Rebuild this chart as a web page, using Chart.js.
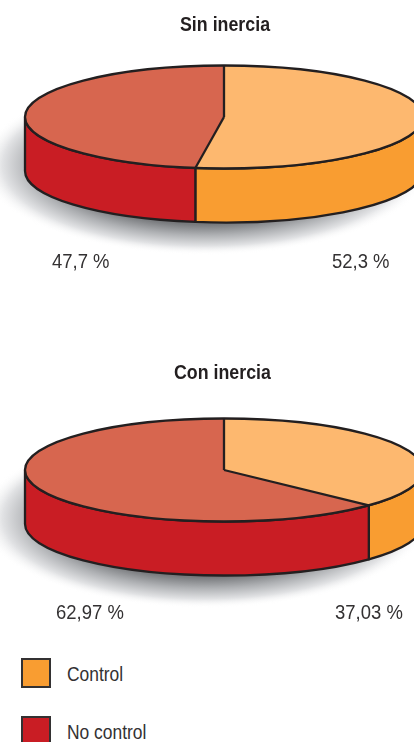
<!DOCTYPE html>
<html lang="es">
<head>
<meta charset="utf-8">
<title>Sin inercia / Con inercia</title>
<script src="https://cdn.jsdelivr.net/npm/chart.js@4/dist/chart.umd.min.js"></script>
<style>
  html, body { margin: 0; padding: 0; background: #fff; width: 414px; height: 742px; overflow: hidden; }
  body { position: relative; font-family: "Liberation Sans", sans-serif; color: #333132; }
  canvas { position: absolute; left: 0; }
  .txt { position: absolute; font-size: 21px; line-height: 24px; white-space: nowrap; transform-origin: 0 0; }
  .pct { transform: scaleX(0.88); }
  .keyText { transform: scaleX(0.83); }
  .ttl { font-size: 20px; font-weight: bold; color: #231F20; transform: scaleX(0.89); }
  .key { position: absolute; left: 21px; width: 26px; height: 26px; border: 2px solid #333132; }
</style>
</head>
<body>
<canvas id="sinInercia" width="448" height="300" style="top:0"></canvas>
<canvas id="conInercia" width="448" height="300" style="top:353px"></canvas>

<script>
  const categories = ['Control', 'No control'];
  const sinInerciaValues = [52.3, 47.7];
  const conInerciaValues = [37.03, 62.97];
  const titles = ['Sin inercia', 'Con inercia'];

  const topColors = ['#FDB86F', '#D7664F'];
  const sideColors = ['#F99D31', '#C91D24'];
  const lineColor = '#231F20';

  const RADIUS = 199;
  const SQUASH = 51.5 / 199; // alto/ancho de la elipse
  const DEPTH = 54;
  const CENTER_Y = 117;

  // pinta sombra y pared antes del pie, y contorno despues
  const pie3d = {
    id: 'pie3d',
    beforeDatasetsDraw(chart) {
      const ctx = chart.ctx;
      const arcs = chart.getDatasetMeta(0).data;
      const cx = arcs[0].x, cy = arcs[0].y, ry = RADIUS * SQUASH;

      // sombra
      ctx.save();
      ctx.translate(cx - 19, cy + 48);
      ctx.scale(1, 90 / 225);
      const g = ctx.createRadialGradient(0, 0, 0, 0, 0, 225);
      g.addColorStop(0, 'rgb(115,117,120)');
      g.addColorStop(0.66, 'rgb(120,122,125)');
      g.addColorStop(0.78, 'rgb(175,177,180)');
      g.addColorStop(0.9, 'rgb(225,226,228)');
      g.addColorStop(1, 'rgba(255,255,255,0)');
      ctx.fillStyle = g;
      ctx.beginPath();
      ctx.arc(0, 0, 225, 0, Math.PI * 2);
      ctx.fill();
      ctx.restore();

      // pared lateral
      ctx.lineWidth = 2.3;
      ctx.strokeStyle = lineColor;
      ctx.lineJoin = 'round';
      arcs.forEach((arc, i) => {
        const a = Math.max(arc.startAngle, 0);
        const b = Math.min(arc.endAngle, Math.PI);
        if (b <= a) return;
        ctx.beginPath();
        ctx.ellipse(cx, cy, RADIUS, ry, 0, a, b);
        ctx.ellipse(cx, cy + DEPTH, RADIUS, ry, 0, b, a, true);
        ctx.closePath();
        ctx.fillStyle = sideColors[i];
        ctx.fill();
        ctx.stroke();
      });
    },
    beforeDatasetDraw(chart) {
      const ctx = chart.ctx;
      const arc = chart.getDatasetMeta(0).data[0];
      ctx.save();
      ctx.translate(arc.x, arc.y);
      ctx.scale(1, SQUASH);
      ctx.translate(-arc.x, -arc.y);
    },
    afterDatasetDraw(chart) {
      chart.ctx.restore();
    },
    afterDatasetsDraw(chart) {
      const ctx = chart.ctx;
      const arcs = chart.getDatasetMeta(0).data;
      const cx = arcs[0].x, cy = arcs[0].y, ry = RADIUS * SQUASH;
      ctx.save();
      ctx.lineWidth = 2.3;
      ctx.strokeStyle = lineColor;
      ctx.lineJoin = 'round';
      ctx.beginPath();
      ctx.ellipse(cx, cy, RADIUS, ry, 0, 0, Math.PI * 2);
      ctx.stroke();
      arcs.forEach(arc => {
        ctx.beginPath();
        ctx.moveTo(cx, cy);
        ctx.lineTo(cx + RADIUS * Math.cos(arc.startAngle), cy + ry * Math.sin(arc.startAngle));
        ctx.stroke();
      });
      ctx.restore();
    }
  };

  function makePie(id, values) {
    return new Chart(document.getElementById(id), {
      type: 'pie',
      plugins: [pie3d],
      data: {
        labels: categories,
        datasets: [{ data: values, backgroundColor: topColors, borderWidth: 0, clip: false }]
      },
      options: {
        responsive: false,
        animation: false,
        radius: RADIUS,
        layout: { padding: { bottom: 300 - 2 * CENTER_Y } },
        plugins: { legend: { display: false }, tooltip: { enabled: false } }
      }
    });
  }

  makePie('sinInercia', sinInerciaValues);
  makePie('conInercia', conInerciaValues);

  function addText(cls, x, y, text) {
    const el = document.createElement('div');
    el.className = 'txt ' + cls;
    el.style.left = x + 'px';
    el.style.top = y + 'px';
    el.textContent = text;
    document.body.appendChild(el);
  }

  addText('ttl', 180, 12, titles[0]);
  addText('ttl', 174, 360, titles[1]);

  // etiquetas de porcentaje
  const fmt = v => String(v).replace('.', ',') + ' %';
  addText('pct', 52, 249, fmt(sinInerciaValues[1]));
  addText('pct', 332, 249, fmt(sinInerciaValues[0]));
  addText('pct', 56, 600, fmt(conInerciaValues[1]));
  addText('pct', 335, 600, fmt(conInerciaValues[0]));

  // leyenda
  categories.forEach((name, i) => {
    const box = document.createElement('div');
    box.className = 'key';
    box.style.top = (658 + i * 58) + 'px';
    box.style.background = sideColors[i];
    document.body.appendChild(box);
    addText('keyText', 67, 662 + i * 58, name);
  });
</script>
</body>
</html>
